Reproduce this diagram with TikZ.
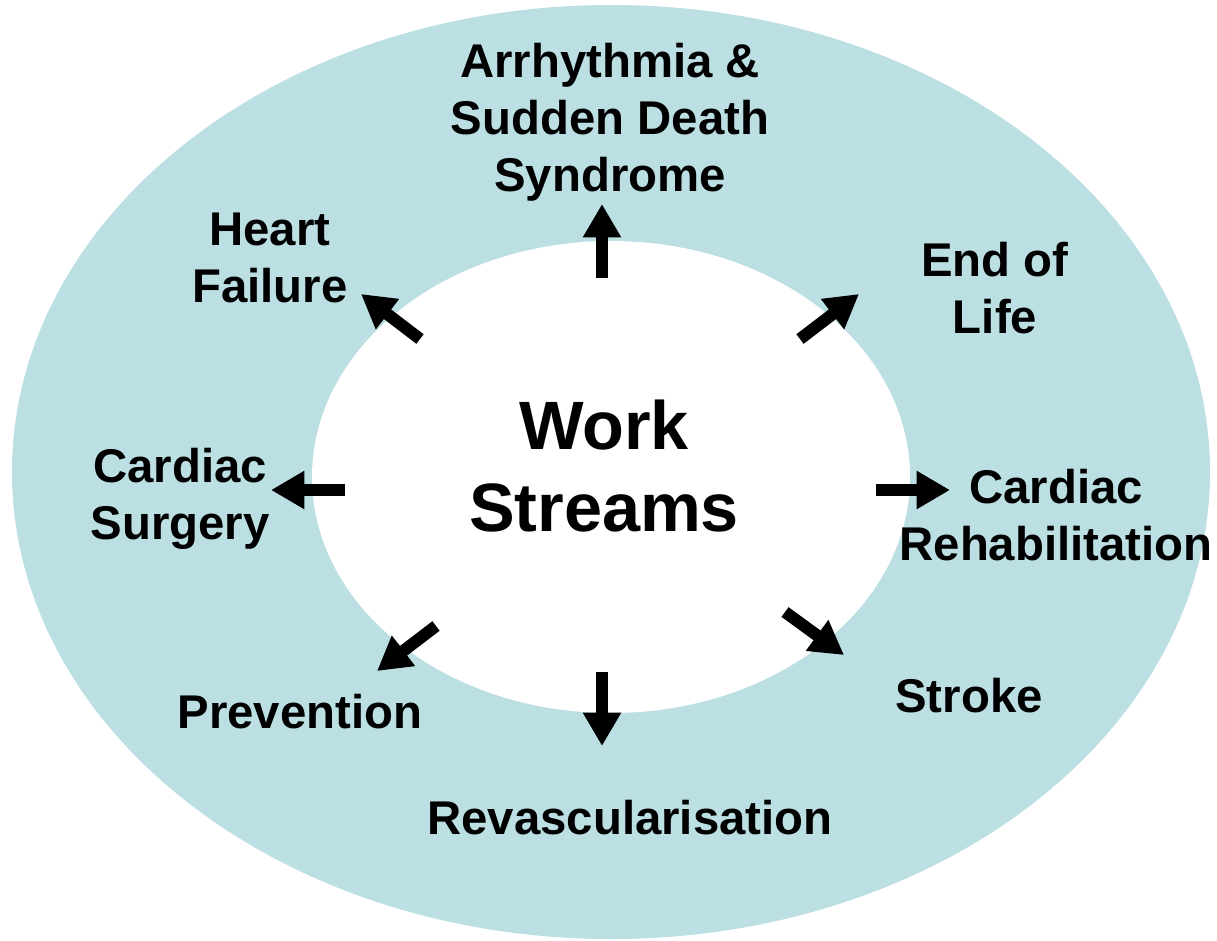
\documentclass[tikz,border=0pt]{standalone}
\usepackage{fontspec}
\setmainfont{Liberation Sans}
\usetikzlibrary{arrows.meta}
\definecolor{ringblue}{HTML}{BBDFE3}
\tikzset{
  lbl/.style={font=\bfseries\fontsize{35.5}{42.6}\selectfont, align=center, inner sep=0pt},
  blk/.style={line width=9pt, -{Triangle[length=25pt,width=27pt]}, black},
}
\begin{document}
\begin{tikzpicture}[x=0.75pt,y=-0.75pt]
\useasboundingbox (0,0) rectangle (1217,940);
\fill[ringblue] (611,472) ellipse [x radius=599, y radius=467];
\fill[white] (611,477) ellipse [x radius=299, y radius=236];
\node[lbl, font=\bfseries\fontsize{51.3}{61.5}\selectfont] (ws) at (604,466) {Work\\Streams};
\node[lbl] (arr) at (610,122) {Arrhythmia \&\\Sudden Death\\Syndrome};
\node[lbl] (hf) at (270,258) {Heart\\Failure};
\node[lbl] (eol) at (995,288) {End of\\Life};
\node[lbl] (cs) at (180,499) {Cardiac\\Surgery};
\node[lbl] (cr) at (1056,515) {Cardiac\\Rehabilitation};
\node[lbl] (st) at (969,696) {Stroke};
\node[lbl] (pv) at (300,712) {Prevention};
\node[lbl] (rv) at (630,818) {Revascularisation};
\coordinate (a1s) at (602,278); \coordinate (a1e) at (602,204);
\coordinate (a2s) at (800,339); \coordinate (a2e) at (859,294);
\coordinate (a3s) at (420,339); \coordinate (a3e) at (361,294);
\coordinate (a4s) at (345,490); \coordinate (a4e) at (271,490);
\coordinate (a5s) at (876,490); \coordinate (a5e) at (950,490);
\coordinate (a6s) at (785,612); \coordinate (a6e) at (844,655);
\coordinate (a7s) at (602,672); \coordinate (a7e) at (602,746);
\coordinate (a8s) at (436,626); \coordinate (a8e) at (377,671);
\foreach \i in {1,...,8} \draw[blk] (a\i s) -- (a\i e);
\end{tikzpicture}
\end{document}
